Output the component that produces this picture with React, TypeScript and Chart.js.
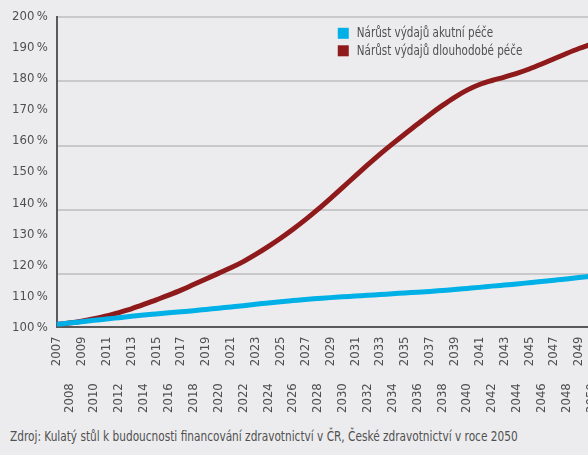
import React, { useEffect, useRef } from "react";
import { Chart, registerables } from "chart.js";

Chart.register(...registerables);

const FONT = "'Liberation Sans Narrow', 'DejaVu Sans Condensed', 'Roboto Condensed', sans-serif";
const SQUEEZE = 0.825;

const years = [
  "2007", "2008", "2009", "2010", "2011", "2012", "2013", "2014", "2015", "2016",
  "2017", "2018", "2019", "2020", "2021", "2022", "2023", "2024", "2025", "2026",
  "2027", "2028", "2029", "2030", "2031", "2032", "2033", "2034", "2035", "2036",
  "2037", "2038", "2039", "2040", "2041", "2042", "2043", "2044", "2045", "2046",
  "2047", "2048", "2049", "2050",
];

const acuteCareGrowth = [
  101.0, 101.4, 101.85, 102.3, 102.7, 103.15, 103.6, 104.0, 104.35, 104.7,
  105.05, 105.4, 105.8, 106.2, 106.6, 107.0, 107.45, 107.9, 108.3, 108.65,
  109.0, 109.3, 109.6, 109.85, 110.1, 110.35, 110.6, 110.85, 111.1, 111.35,
  111.6, 111.9, 112.2, 112.55, 112.9, 113.3, 113.65, 114.0, 114.4, 114.8,
  115.2, 115.6, 116.05, 116.5,
];

const longTermCareGrowth = [
  101.0, 101.4, 102.0, 102.8, 103.7, 104.8, 106.0, 107.4, 108.9, 110.4,
  112.0, 113.8, 115.6, 117.4, 119.2, 121.2, 123.5, 126.0, 128.7, 131.6,
  134.7, 138.0, 141.5, 145.1, 148.7, 152.3, 155.8, 159.1, 162.3, 165.4,
  168.5, 171.4, 174.1, 176.4, 178.2, 179.5, 180.6, 181.8, 183.2, 184.8,
  186.5, 188.2, 189.8, 191.2,
];

const seriesLabels = ["Nárůst výdajů akutní péče", "Nárůst výdajů dlouhodobé péče"];
const seriesColors = ["#00b0e6", "#8e1a1c"];

const sourceNote =
  "Zdroj: Kulatý stůl k budoucnosti financování zdravotnictví v ČR, České zdravotnictví v roce 2050";

const insideLegend = {
  id: "insideLegend",
  afterDatasetsDraw(chart: any) {
    const { ctx, chartArea } = chart;
    const x = chartArea.left + 281;
    let y = chartArea.top + 11;
    ctx.save();
    ctx.font = `14px ${FONT}`;
    ctx.textBaseline = "middle";
    ctx.textAlign = "left";
    chart.data.datasets.forEach((ds: any) => {
      ctx.fillStyle = ds.borderColor;
      ctx.fillRect(x, y, 11, 11);
      ctx.fillStyle = "#505050";
      ctx.save();
      ctx.translate(x + 19, y + 6);
      ctx.scale(SQUEEZE, 1);
      ctx.fillText(ds.label, 0, 0);
      ctx.restore();
      y += 17.5;
    });
    ctx.restore();
  },
};

export default function App() {
  const ref = useRef<HTMLCanvasElement>(null);

  useEffect(() => {
    if (!ref.current) return;
    const chart = new Chart(ref.current, {
      type: "line",
      data: {
        labels: years,
        datasets: [
          {
            label: seriesLabels[0],
            data: acuteCareGrowth,
            borderColor: seriesColors[0],
            backgroundColor: seriesColors[0],
            borderWidth: 5,
            pointRadius: 0,
            cubicInterpolationMode: "monotone",
            yAxisID: "y",
          },
          {
            label: seriesLabels[1],
            data: longTermCareGrowth,
            borderColor: seriesColors[1],
            backgroundColor: seriesColors[1],
            borderWidth: 5,
            pointRadius: 0,
            cubicInterpolationMode: "monotone",
            yAxisID: "y",
          },
        ],
      },
      options: {
        animation: false,
        responsive: false,
        maintainAspectRatio: false,
        layout: { padding: { top: 6, right: 20, left: 3, bottom: 0 } },
        plugins: {
          legend: { display: false },
          tooltip: { enabled: false },
        },
        scales: {
          x: {
            offset: false,
            grid: { display: false, drawTicks: false },
            border: { display: true, color: "#5a5a5a", width: 2 },
            ticks: {
              autoSkip: false,
              minRotation: 90,
              maxRotation: 90,
              padding: 9,
              color: "#505050",
              font: { family: FONT, size: 13 },
              callback: (_v: any, i: number) =>
                i % 2 === 1 ? years[i] + "\u2003\u2003\u2003\u2003" : years[i],
            },
          },
          y: {
            position: "left",
            min: 100,
            max: 200,
            grid: { display: false, drawTicks: false },
            border: { display: true, color: "#5a5a5a", width: 2 },
            ticks: {
              stepSize: 10,
              padding: 9,
              color: "#505050",
              font: { family: FONT, size: 13 },
              callback: (v: any) => `${v}\u2009%`,
            },
          },
          y2: {
            position: "right",
            min: 103.5,
            max: 200,
            grid: { display: true, drawTicks: false, color: "#c9c9cb", lineWidth: 2 },
            border: { display: false },
            ticks: { display: false, stepSize: 20 },
          },
        },
      },
      plugins: [insideLegend],
    });
    return () => chart.destroy();
  }, []);

  return (
    <div
      style={{
        position: "absolute",
        left: 0,
        top: 0,
        width: 588,
        height: 455,
        overflow: "hidden",
        background: "#ececee",
      }}
    >
      <canvas ref={ref} width={616} height={422} style={{ display: "block" }} />
      <div
        style={{
          position: "absolute",
          left: 10,
          top: 428,
          fontFamily: FONT,
          fontSize: 14,
          color: "#505050",
          whiteSpace: "nowrap",
          transform: "scaleX(0.838)",
          transformOrigin: "left top",
        }}
      >
        {sourceNote}
      </div>
    </div>
  );
}
